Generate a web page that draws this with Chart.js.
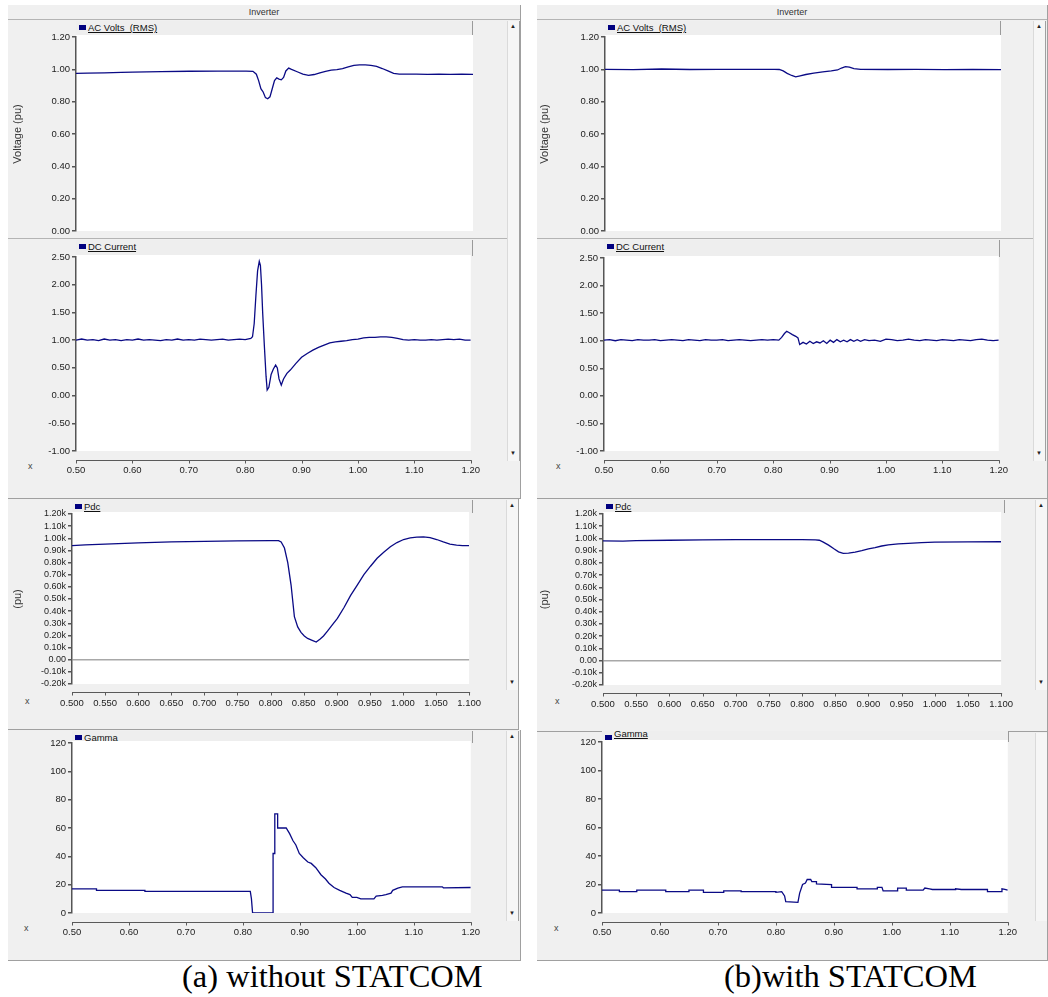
<!DOCTYPE html>
<html><head><meta charset="utf-8">
<script src="https://cdn.jsdelivr.net/npm/chart.js@4.4.1/dist/chart.umd.min.js"></script>
<style>
body{margin:0;width:1048px;height:997px;position:relative;overflow:hidden;background:#fff;font-family:"Liberation Sans",Arial,sans-serif}
.win{position:absolute;background:#f0f0f0;border-right:1px solid #a0a0a0;border-bottom:1px solid #a0a0a0;box-sizing:border-box}
.tbar{position:absolute;height:15px;border-bottom:1px solid #b4b4b4;font-size:9px;color:#333;text-align:center;line-height:14px;box-sizing:border-box}
.hl{position:absolute;height:1px;background:#b4b4b4}
.leg{position:absolute;background:#eeeeee;border-right:1px solid #9a9a9a;box-sizing:border-box;font-size:9.5px;color:#111;overflow:hidden}
.leg i{position:absolute;left:3px;top:4px;width:7px;height:5px;background:#00007f}
.leg span{position:absolute;left:12px;top:1px;text-decoration:underline;white-space:nowrap}
.sb{position:absolute;width:13px;background:#f6f6f6;border-left:1px solid #dadada;border-right:1px solid #a0a0a0;box-sizing:border-box}
.arr{position:absolute;left:2px;font-size:6px;color:#222;line-height:8px}
.xl{position:absolute;font-size:9px;color:#444}
.cap{position:absolute;font-family:"Liberation Serif","Times New Roman",serif;font-size:32.5px;color:#000;white-space:nowrap}
canvas{position:absolute}
</style></head>
<body>
<!-- windows -->
<div class="win" style="left:8px;top:5px;width:513px;height:494px"></div>
<div class="win" style="left:537px;top:5px;width:511px;height:494px"></div>
<div class="win" style="left:8px;top:499px;width:511px;height:231px"></div>
<div class="win" style="left:537px;top:499px;width:511px;height:233px"></div>
<div class="win" style="left:8px;top:730px;width:513px;height:231px"></div>
<div class="win" style="left:537px;top:732px;width:511px;height:229px"></div>
<div class="tbar" style="left:8px;top:5px;width:512px">Inverter</div>
<div class="tbar" style="left:537px;top:5px;width:510px">Inverter</div>
<div class="hl" style="left:8px;top:238px;width:499px"></div>
<div class="hl" style="left:537px;top:238px;width:496px"></div>
<!-- scrollbars -->
<div class="sb" style="left:507px;top:21px;height:440px"><div class="arr" style="top:1px">&#9650;</div><div class="arr" style="top:428px">&#9660;</div></div>
<div class="sb" style="left:1033px;top:21px;height:440px"><div class="arr" style="top:1px">&#9650;</div><div class="arr" style="top:428px">&#9660;</div></div>
<div class="sb" style="left:506px;top:500px;height:190px"><div class="arr" style="top:1px">&#9650;</div><div class="arr" style="top:178px">&#9660;</div></div>
<div class="sb" style="left:1035px;top:500px;height:190px"><div class="arr" style="top:1px">&#9650;</div><div class="arr" style="top:178px">&#9660;</div></div>
<div class="sb" style="left:506px;top:731px;height:190px"><div class="arr" style="top:1px">&#9650;</div><div class="arr" style="top:178px">&#9660;</div></div>
<div class="sb" style="left:1035px;top:733px;height:188px"></div>
<!-- legends -->
<div class="leg" style="left:76px;top:21px;width:397px;height:14px"><i></i><span>AC Volts &nbsp;(RMS)</span></div>
<div class="leg" style="left:76px;top:240px;width:397px;height:16px"><i></i><span>DC Current</span></div>
<div class="leg" style="left:72px;top:500px;width:401px;height:13px"><i></i><span>Pdc</span></div>
<div class="leg" style="left:72px;top:731px;width:401px;height:12px"><i></i><span>Gamma</span></div>
<div class="leg" style="left:605px;top:21px;width:396px;height:14px"><i></i><span>AC Volts &nbsp;(RMS)</span></div>
<div class="leg" style="left:604px;top:240px;width:396px;height:17px"><i></i><span>DC Current</span></div>
<div class="leg" style="left:603px;top:500px;width:402px;height:13px"><i></i><span>Pdc</span></div>
<div class="leg" style="left:602px;top:731px;width:407px;height:11px"><i></i><span style="top:-3px">Gamma</span></div>
<!-- x labels -->
<div class="xl" style="left:28px;top:461px">x</div>
<div class="xl" style="left:25px;top:696px">x</div>
<div class="xl" style="left:24px;top:923px">x</div>
<div class="xl" style="left:556px;top:461px">x</div>
<div class="xl" style="left:555px;top:696px">x</div>
<div class="xl" style="left:554px;top:923px">x</div>
<!-- captions -->
<div class="cap" style="left:182px;top:958px">(a) without STATCOM</div>
<div class="cap" style="left:724px;top:958px">(b)with STATCOM</div>

<script>
// ---------- data: (a) without STATCOM ----------
const acTimeA = [0.50,0.52,0.55,0.58,0.60,0.65,0.70,0.75,0.80,0.812,0.818,0.822,0.826,0.828,0.830,0.834,0.838,0.842,0.846,0.850,0.854,0.858,0.862,0.866,0.870,0.875,0.880,0.890,0.900,0.910,0.920,0.930,0.940,0.950,0.960,0.970,0.980,0.990,1.000,1.010,1.020,1.030,1.040,1.050,1.060,1.070,1.080,1.100,1.120,1.140,1.160,1.180,1.200];
const acVoltsA = [0.975,0.976,0.978,0.981,0.983,0.986,0.988,0.989,0.989,0.988,0.970,0.930,0.880,0.870,0.860,0.825,0.818,0.830,0.880,0.930,0.947,0.940,0.935,0.950,0.990,1.008,1.000,0.985,0.970,0.963,0.968,0.978,0.988,0.995,0.998,1.005,1.015,1.024,1.027,1.027,1.025,1.018,1.005,0.990,0.975,0.970,0.970,0.970,0.969,0.970,0.969,0.970,0.969];

const dcTimeA = [0.50,0.51,0.52,0.53,0.54,0.55,0.56,0.57,0.58,0.59,0.60,0.61,0.62,0.63,0.64,0.65,0.66,0.67,0.68,0.69,0.70,0.71,0.72,0.73,0.74,0.75,0.76,0.77,0.78,0.79,0.80,0.810,0.813,0.816,0.819,0.822,0.825,0.827,0.829,0.831,0.834,0.837,0.839,0.842,0.846,0.850,0.854,0.857,0.860,0.864,0.868,0.874,0.880,0.890,0.900,0.910,0.920,0.930,0.940,0.950,0.960,0.970,0.980,0.990,1.000,1.010,1.020,1.030,1.040,1.050,1.060,1.070,1.080,1.090,1.100,1.110,1.120,1.130,1.140,1.150,1.160,1.170,1.180,1.190,1.200];
const dcCurrentA = [1.00,1.02,1.00,1.01,0.99,1.02,1.00,1.01,0.99,1.01,1.00,1.02,1.00,1.01,1.00,0.99,1.01,1.00,1.02,1.00,1.01,1.00,1.02,1.01,1.00,1.01,1.02,1.00,1.01,1.02,1.01,1.03,1.06,1.30,1.80,2.25,2.42,2.35,2.00,1.50,0.90,0.35,0.10,0.15,0.38,0.48,0.55,0.50,0.30,0.19,0.30,0.40,0.46,0.58,0.69,0.76,0.82,0.87,0.91,0.95,0.97,0.98,0.99,1.01,1.02,1.04,1.05,1.05,1.06,1.06,1.05,1.03,1.01,1.00,1.01,1.00,1.00,1.01,1.00,1.01,1.02,1.01,1.02,1.00,1.00];

const pdcTimeA = [0.50,0.52,0.55,0.60,0.65,0.70,0.75,0.80,0.812,0.816,0.821,0.826,0.831,0.836,0.841,0.846,0.851,0.856,0.862,0.869,0.875,0.880,0.886,0.893,0.901,0.911,0.921,0.931,0.941,0.951,0.961,0.971,0.981,0.991,1.001,1.011,1.021,1.031,1.041,1.051,1.061,1.071,1.081,1.090,1.100];
const pdcA = [940,945,952,962,970,975,978,980,980,970,920,800,615,355,270,225,195,175,162,145,170,195,235,285,340,430,530,615,700,770,835,885,930,965,990,1003,1010,1012,1005,990,970,952,943,940,940];

const gammaTimeA = [0.50,0.543,0.543,0.628,0.628,0.813,0.815,0.817,0.853,0.853,0.856,0.856,0.861,0.861,0.876,0.882,0.888,0.893,0.899,0.906,0.914,0.920,0.928,0.937,0.945,0.951,0.960,0.970,0.981,0.988,0.992,1.000,1.007,1.030,1.034,1.045,1.051,1.060,1.063,1.072,1.080,1.150,1.152,1.200];
const gammaA = [17,17,16,16,15.3,15.3,10,0,0,42,42,70,70,60,60,56,51,48,42,39,36,35,32,27,24,21,18,16,14,13,11,11,10,10,12,12.5,13,14,16,17.5,18.5,18.5,17.8,18];

// ---------- data: (b) with STATCOM ----------
const acTimeB = [0.50,0.55,0.60,0.65,0.70,0.75,0.80,0.808,0.815,0.822,0.830,0.837,0.845,0.855,0.869,0.885,0.900,0.911,0.918,0.925,0.932,0.940,0.952,1.00,1.05,1.10,1.15,1.20];
const acVoltsB = [1.000,0.998,1.002,0.999,1.000,1.000,1.000,0.999,0.990,0.975,0.962,0.954,0.960,0.968,0.976,0.984,0.990,0.996,1.008,1.017,1.014,1.005,1.000,0.999,1.000,0.998,1.000,0.998];

const dcTimeB = [0.50,0.51,0.52,0.53,0.54,0.55,0.56,0.57,0.58,0.59,0.60,0.61,0.62,0.63,0.64,0.65,0.66,0.67,0.68,0.69,0.70,0.71,0.72,0.73,0.74,0.75,0.76,0.77,0.78,0.79,0.80,0.81,0.815,0.820,0.824,0.828,0.834,0.840,0.844,0.847,0.853,0.859,0.865,0.871,0.877,0.883,0.889,0.895,0.901,0.907,0.913,0.919,0.925,0.931,0.937,0.943,0.949,0.955,0.962,0.970,0.980,0.990,1.000,1.010,1.020,1.030,1.040,1.050,1.060,1.070,1.080,1.090,1.100,1.110,1.120,1.130,1.140,1.150,1.160,1.170,1.180,1.190,1.200];
const dcCurrentB = [1.01,1.02,1.00,1.02,1.01,1.00,1.02,1.01,1.01,1.02,1.00,1.01,1.02,1.01,1.00,1.02,1.01,1.00,1.02,1.01,1.01,1.02,1.00,1.01,1.02,1.01,1.00,1.01,1.02,1.01,1.02,1.01,1.06,1.13,1.17,1.15,1.11,1.08,1.05,0.93,0.97,0.94,0.99,0.95,0.98,0.96,1.00,0.95,1.01,0.97,1.02,0.98,1.01,0.98,1.02,0.99,1.02,0.99,1.02,1.00,1.01,0.99,1.03,1.02,1.00,1.01,1.03,1.01,1.00,1.02,1.01,1.00,1.02,1.01,1.00,1.02,1.01,1.00,1.02,1.03,1.01,1.00,1.01];

const pdcTimeB = [0.50,0.53,0.55,0.60,0.65,0.70,0.75,0.80,0.82,0.826,0.832,0.840,0.848,0.855,0.862,0.870,0.880,0.890,0.900,0.910,0.920,0.930,0.945,0.960,0.980,1.000,1.050,1.100];
const pdcB = [980,978,982,985,988,990,990,990,988,985,970,945,915,890,878,880,888,900,915,925,938,948,955,960,965,970,972,973];

const gammaTimeB = [0.50,0.53,0.53,0.56,0.56,0.61,0.61,0.65,0.65,0.675,0.675,0.71,0.71,0.74,0.74,0.80,0.80,0.81,0.815,0.817,0.838,0.841,0.846,0.851,0.854,0.860,0.862,0.870,0.870,0.896,0.896,0.940,0.940,0.975,0.975,0.983,0.985,1.010,1.010,1.025,1.025,1.054,1.057,1.065,1.070,1.110,1.110,1.120,1.165,1.165,1.190,1.190,1.195,1.200];
const gammaB = [16,16,15,15,16,16,15,15,16,16,14.5,14.5,15.5,15.5,15,15,14.5,15,12,8,7.5,14,20,21,23.5,23.5,22,22,20.5,20,18,18,17,17,18,18,15.5,15.5,17.5,17.5,16,16,17.5,17,16.5,16.5,17,16.5,16.5,15,15,17,16.5,16];

// ---------- axis tick formats ----------
const tickFmt2 = v => Number(v).toFixed(2);
const tickFmt3 = v => Number(v).toFixed(3);
const tickFmtK = v => Math.abs(v) < 1e-9 ? '0.00' : (v/1000).toFixed(2) + 'k';
const tickFmt0 = v => String(Math.round(v));

Chart.defaults.font.family = '"Liberation Sans", Arial, sans-serif';
const LINE = '#0a0a85';
const AXIS = '#555555';

const deco = {
  id: 'deco',
  beforeDraw(chart, args, opts) {
    const a = chart.chartArea, ctx = chart.ctx;
    ctx.save();
    ctx.fillStyle = '#ffffff';
    const ext = opts.extendTop || 0;
    ctx.fillRect(a.left, a.top - ext, a.right - a.left, a.bottom - a.top + ext);
    ctx.restore();
  },
  afterDraw(chart, args, opts) {
    if (!opts.axisOffset) return;
    const xs = chart.scales.x, a = chart.chartArea, ctx = chart.ctx;
    const y = Math.round(a.bottom + opts.axisOffset) + 0.5;
    ctx.save();
    ctx.strokeStyle = '#5a5a5a';
    ctx.lineWidth = 1;
    ctx.beginPath();
    ctx.moveTo(a.left, y); ctx.lineTo(a.right + 1, y);
    xs.ticks.forEach((t, i) => {
      const px = Math.round(xs.getPixelForTick(i)) + 0.5;
      ctx.moveTo(px, y); ctx.lineTo(px, y + 3);
    });
    ctx.stroke();
    ctx.restore();
  }
};

function makePanel(cfg) {
  const padTop = 8, padRight = 22;
  const xH = cfg.showX ? 36 : 0;
  const padBottom = cfg.showX ? 0 : 8;
  const cw = cfg.plotRight + padRight - cfg.canvasLeft;
  const ch = padTop + (cfg.plotBottom - cfg.plotTop) + xH + padBottom;
  const c = document.createElement('canvas');
  c.width = cw; c.height = ch;
  c.style.left = cfg.canvasLeft + 'px';
  c.style.top = (cfg.plotTop - padTop) + 'px';
  c.style.width = cw + 'px'; c.style.height = ch + 'px';
  document.body.appendChild(c);
  const yW = cfg.plotLeft - cfg.canvasLeft;
  new Chart(c, {
    type: 'line',
    data: { datasets: [{
      data: cfg.t.map((x, i) => ({ x: x, y: cfg.v[i] })),
      borderColor: LINE, borderWidth: 1.3, pointRadius: 0, tension: 0, fill: false
    }]},
    options: {
      responsive: false, animation: false, devicePixelRatio: 1,
      events: [],
      layout: { padding: { top: padTop, right: padRight, left: 0, bottom: padBottom } },
      plugins: { legend: { display: false }, tooltip: { enabled: false },
        deco: { axisOffset: cfg.showX ? cfg.axisOffset : 0, extendTop: 2 } },
      scales: {
        x: {
          type: 'linear', display: cfg.showX, min: cfg.xMin, max: cfg.xMax,
          afterFit: s => { s.height = xH; },
          grid: { display: false, drawTicks: false },
          border: { display: false },
          ticks: { stepSize: cfg.xStep, callback: cfg.xFmt, autoSkip: false, maxRotation: 0, minRotation: 0,
                   padding: 14, color: '#222', font: { size: 9.5 } }
        },
        y: {
          type: 'linear', min: cfg.yMin, max: cfg.yMax,
          afterFit: s => { s.width = yW; },
          grid: {
            drawOnChartArea: !!cfg.zeroLine, drawTicks: true, tickLength: 4, tickColor: AXIS,
            color: ctx => (cfg.zeroLine && ctx.tick && Math.abs(ctx.tick.value) < 1e-9) ? '#a8a8a8' : 'rgba(0,0,0,0)',
            lineWidth: 1.5
          },
          border: { display: true, color: AXIS, width: 1.5 },
          title: cfg.yTitle ? { display: true, text: cfg.yTitle, color: '#333', font: { size: 11 }, padding: { top: 4, bottom: 0 } } : { display: false },
          ticks: { stepSize: cfg.yStep, callback: cfg.yFmt, autoSkip: false, padding: 2, color: '#222', font: { size: cfg.yFont || 9.5 } }
        }
      }
    },
    plugins: [deco]
  });
}

const L = 7, R = 534;
makePanel({ t: acTimeA, v: acVoltsA, canvasLeft: L, plotLeft: 76, plotRight: 473, plotTop: 37, plotBottom: 231,
  showX: false, xMin: 0.5, xMax: 1.2, xStep: 0.1, xFmt: tickFmt2, yMin: 0, yMax: 1.2, yStep: 0.2, yFmt: tickFmt2, yTitle: 'Voltage (pu)' });
makePanel({ t: dcTimeA, v: dcCurrentA, canvasLeft: L, plotLeft: 76, plotRight: 472, plotTop: 257, plotBottom: 451,
  showX: true, axisOffset: 9, xMin: 0.5, xMax: 1.2, xStep: 0.1, xFmt: tickFmt2, yMin: -1, yMax: 2.5, yStep: 0.5, yFmt: tickFmt2 });
makePanel({ t: pdcTimeA, v: pdcA, canvasLeft: L, plotLeft: 72, plotRight: 473, plotTop: 514, plotBottom: 684,
  showX: true, axisOffset: 8, xMin: 0.5, xMax: 1.1, xStep: 0.05, xFmt: tickFmt3, yMin: -200, yMax: 1200, yStep: 100, yFmt: tickFmtK, yTitle: '(pu)', zeroLine: true, yFont: 9 });
makePanel({ t: gammaTimeA, v: gammaA, canvasLeft: L, plotLeft: 72, plotRight: 472, plotTop: 743, plotBottom: 913,
  showX: true, axisOffset: 9, xMin: 0.5, xMax: 1.2, xStep: 0.1, xFmt: tickFmt2, yMin: 0, yMax: 120, yStep: 20, yFmt: tickFmt0 });

makePanel({ t: acTimeB, v: acVoltsB, canvasLeft: R, plotLeft: 605, plotRight: 1001, plotTop: 37, plotBottom: 231,
  showX: false, xMin: 0.5, xMax: 1.2, xStep: 0.1, xFmt: tickFmt2, yMin: 0, yMax: 1.2, yStep: 0.2, yFmt: tickFmt2, yTitle: 'Voltage (pu)' });
makePanel({ t: dcTimeB, v: dcCurrentB, canvasLeft: R, plotLeft: 604, plotRight: 1000, plotTop: 258, plotBottom: 451,
  showX: true, axisOffset: 9, xMin: 0.5, xMax: 1.2, xStep: 0.1, xFmt: tickFmt2, yMin: -1, yMax: 2.5, yStep: 0.5, yFmt: tickFmt2 });
makePanel({ t: pdcTimeB, v: pdcB, canvasLeft: R, plotLeft: 603, plotRight: 1005, plotTop: 514, plotBottom: 685,
  showX: true, axisOffset: 8, xMin: 0.5, xMax: 1.1, xStep: 0.05, xFmt: tickFmt3, yMin: -200, yMax: 1200, yStep: 100, yFmt: tickFmtK, yTitle: '(pu)', zeroLine: true, yFont: 9 });
makePanel({ t: gammaTimeB, v: gammaB, canvasLeft: R, plotLeft: 602, plotRight: 1009, plotTop: 742, plotBottom: 913,
  showX: true, axisOffset: 9, xMin: 0.5, xMax: 1.2, xStep: 0.1, xFmt: tickFmt2, yMin: 0, yMax: 120, yStep: 20, yFmt: tickFmt0 });
</script>
</body></html>
